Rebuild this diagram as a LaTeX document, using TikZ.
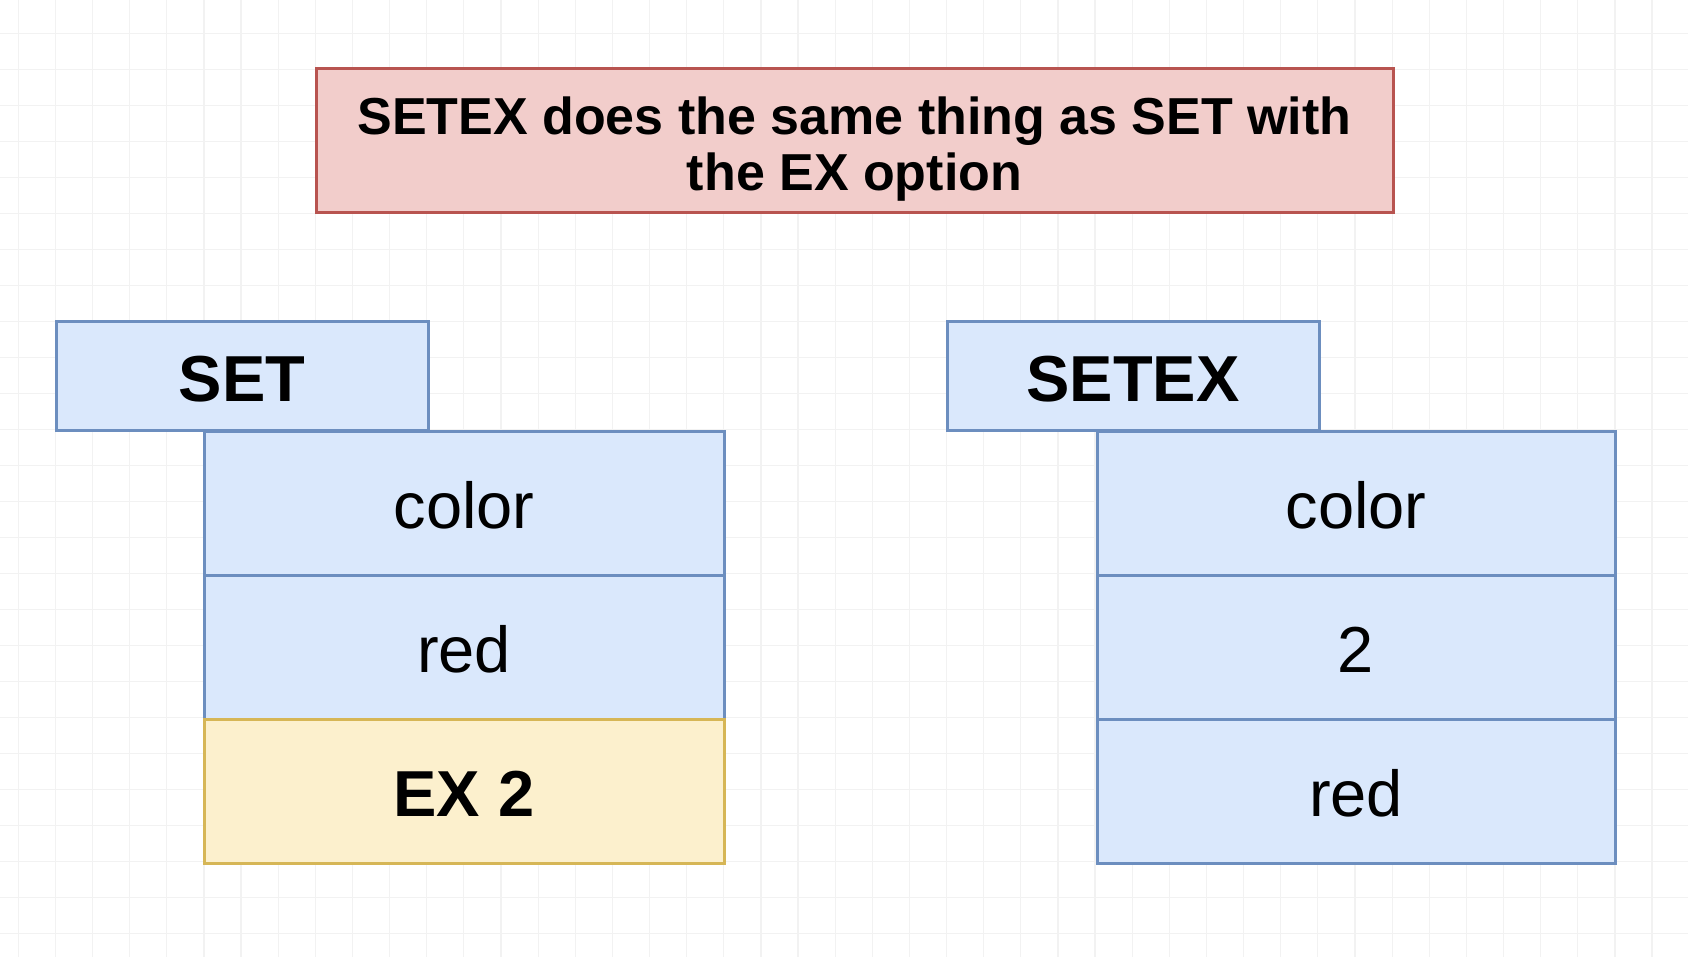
\documentclass[tikz,border=0pt]{standalone}
\usepackage{fontspec}
\setmainfont{Liberation Sans}
\definecolor{gridc}{HTML}{F2F2F2}
\definecolor{bluefill}{HTML}{DAE8FC}
\definecolor{bluedraw}{HTML}{6C8EBF}
\definecolor{redfill}{HTML}{F2CDCB}
\definecolor{reddraw}{HTML}{B85450}
\definecolor{yelfill}{HTML}{FCF0CD}
\definecolor{yeldraw}{HTML}{D6B656}
\tikzset{
  box/.style={rectangle, inner sep=0pt, outer sep=0pt, line width=3pt, anchor=north west},
  bluebox/.style={box, fill=bluefill, draw=bluedraw},
  yelbox/.style={box, fill=yelfill, draw=yeldraw},
  redbox/.style={box, fill=redfill, draw=reddraw},
  lbl/.style={anchor=base, inner sep=0pt, font=\fontsize{65}{78}\selectfont},
  blbl/.style={lbl, font=\fontsize{65}{78}\selectfont\bfseries},
  tlbl/.style={anchor=base, inner sep=0pt, font=\fontsize{52}{58}\selectfont\bfseries},
}
\begin{document}
\begin{tikzpicture}[x=1pt, y=-1pt]
\useasboundingbox (0,0) rectangle (1688,957);
\fill[white] (0,0) rectangle (1688,957);
% grid
\foreach \k in {0,...,44} {
  \draw[gridc, line width=1.2pt] ({18.3+\k*37.13},0) -- ({18.3+\k*37.13},957);
}
\foreach \k in {0,...,25} {
  \draw[gridc, line width=1.2pt] (0,{33.3+\k*36}) -- (1688,{33.3+\k*36});
}
% title
\node[redbox, minimum width=1077pt, minimum height=144pt] (title) at (316,69) {};
\node[tlbl] (t1) at (854.5,135) {SETEX does the same thing as SET with};
\node[tlbl] (t2) at (854.5,191) {the EX option};
% left: SET
\node[bluebox, minimum width=372pt, minimum height=108pt] (set) at (56,322) {};
\node[blbl] (setl) at (242,401) {SET};
\node[bluebox, minimum width=520pt, minimum height=144pt] (l1) at (204,431) {};
\node[bluebox, minimum width=520pt, minimum height=144pt] (l2) at (204,575) {};
\node[yelbox, minimum width=520pt, minimum height=144pt] (l3) at (204,719) {};
\node[lbl] (l1t) at (464,528) {color};
\node[lbl] (l2t) at (464,672) {red};
\node[blbl] (l3t) at (464,816) {EX 2};
% right: SETEX
\node[bluebox, minimum width=372pt, minimum height=108pt] (setex) at (947,322) {};
\node[blbl] (setexl) at (1133,401) {SETEX};
\node[bluebox, minimum width=518pt, minimum height=144pt] (r1) at (1097,431) {};
\node[bluebox, minimum width=518pt, minimum height=144pt] (r2) at (1097,575) {};
\node[bluebox, minimum width=518pt, minimum height=144pt] (r3) at (1097,719) {};
\node[lbl] (r1t) at (1356,528) {color};
\node[lbl] (r2t) at (1356,672) {2};
\node[lbl] (r3t) at (1356,816) {red};
\end{tikzpicture}
\end{document}
